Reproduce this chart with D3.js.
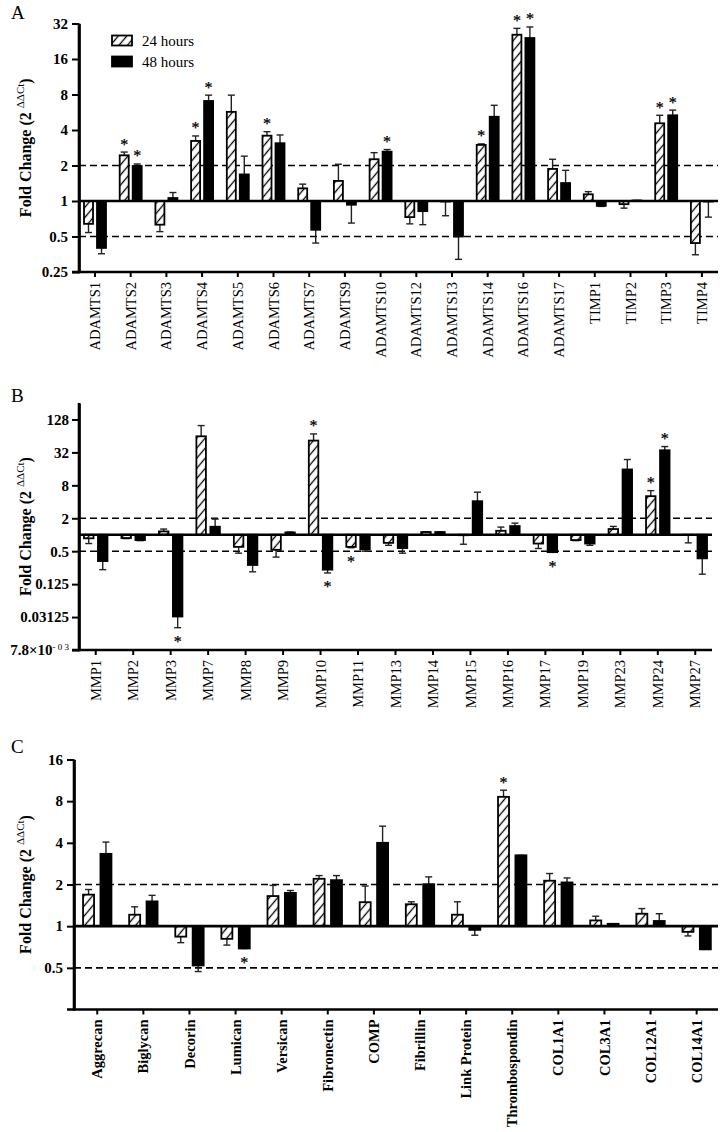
<!DOCTYPE html>
<html><head><meta charset="utf-8">
<script src="https://cdn.jsdelivr.net/npm/d3@7"></script>
<style>body{margin:0;background:#fff} svg{display:block} text{font-family:'Liberation Serif','Times New Roman',serif;}</style>
</head><body><svg id="c" width="720" height="1132"></svg>
<script>
// ---------- DATA ----------
const catsA = ["ADAMTS1","ADAMTS2","ADAMTS3","ADAMTS4","ADAMTS5","ADAMTS6","ADAMTS7","ADAMTS9","ADAMTS10","ADAMTS12","ADAMTS13","ADAMTS14","ADAMTS16","ADAMTS17","TIMP1","TIMP2","TIMP3","TIMP4"];
const valA24 = [0.64,2.44,0.63,3.23,5.7,3.58,1.28,1.48,2.26,0.73,0.99,2.99,25.7,1.87,1.14,0.94,4.56,0.44];
const errA24 = [0.54,2.6,0.55,3.56,7.9,3.87,1.39,2.05,2.57,0.64,0.75,3.05,29.1,2.26,1.2,0.87,5.33,0.35];
const valA48 = [0.40,1.98,1.06,7.05,1.68,3.09,0.57,0.93,2.62,0.82,0.50,5.18,24.1,1.42,0.91,1.01,5.33,0.99];
const errA48 = [0.357,2.06,1.18,7.9,2.4,3.63,0.44,0.65,2.73,0.63,0.32,6.48,29.9,1.82,0.90,1.01,5.9,0.73];
const starA24 = [0,1,0,1,0,1,0,0,0,0,0,1,1,0,0,0,1,0];
const starA48 = [0,1,0,1,0,0,0,0,1,0,0,0,1,0,0,0,1,0];
const tickValA = [0.25,0.5,1,2,4,8,16,32];
const tickLabA = ["0.25","0.5","1","2","4","8","16","32"];

const catsB = ["MMP1","MMP2","MMP3","MMP7","MMP8","MMP9","MMP10","MMP11","MMP13","MMP14","MMP15","MMP16","MMP17","MMP19","MMP23","MMP24","MMP27"];
const valB24 = [0.86,0.87,1.15,63,0.60,0.53,52.6,0.60,0.71,1.12,0.98,1.18,0.69,0.80,1.27,5.07,0.99];
const errB24 = [0.69,0.85,1.27,99,0.46,0.39,69.6,0.58,0.64,1.13,0.67,1.38,0.56,0.78,1.42,6.4,0.71];
const valB48 = [0.33,0.80,0.032,1.4,0.28,1.1,0.23,0.54,0.57,1.12,4.1,1.44,0.48,0.69,15.6,35,0.37];
const errB48 = [0.23,0.78,0.020,1.93,0.21,1.12,0.20,0.50,0.46,1.13,6.0,1.63,0.48,0.64,23.7,40.9,0.19];
const starB24 = [0,0,0,0,0,0,1,1,0,0,0,0,0,0,0,1,0];
const starB48 = [0,0,1,0,0,0,1,0,0,0,0,0,1,0,0,1,0];
const tickValB = [1/128,1/32,1/8,0.5,2,8,32,128];
const tickLabB = ["7.8×10|- 0 3","0.03125","0.125","0.5","2","8","32","128"];

const catsC = ["Aggrecan","Biglycan","Decorin","Lumican","Versican","Fibronectin","COMP","Fibrillin","Link Protein","Thrombospondin","COL1A1","COL3A1","COL12A1","COL14A1"];
const valC24 = [1.69,1.21,0.84,0.81,1.65,2.2,1.49,1.44,1.21,8.6,2.13,1.1,1.23,0.91];
const errC24 = [1.84,1.38,0.76,0.73,1.97,2.32,1.95,1.5,1.5,9.6,2.4,1.18,1.34,0.85];
const valC48 = [3.33,1.51,0.52,0.69,1.74,2.15,4.0,2.01,0.94,3.25,2.07,1.04,1.09,0.68];
const errC48 = [4.05,1.67,0.47,0.69,1.81,2.32,5.28,2.27,0.86,3.25,2.23,1.04,1.23,0.68];
const starC24 = [0,0,0,0,0,0,0,0,0,1,0,0,0,0];
const starC48 = [0,0,0,1,0,0,0,0,0,0,0,0,0,0];
const tickValC = [0.5,1,2,4,8,16];
const tickLabC = ["0.5","1","2","4","8","16"];

const seriesNames = ["24 hours","48 hours"];
const refLines = [2,0.5];

// ---------- DRAW ----------
const FONT = "'Liberation Serif','Times New Roman',serif";
const svg = d3.select('#c');
const defs = svg.append('defs');
const pat = defs.append('pattern').attr('id','hatch').attr('patternUnits','userSpaceOnUse')
  .attr('width',6.5).attr('height',6.5).attr('patternTransform','rotate(40)');
pat.append('rect').attr('width',6.5).attr('height',6.5).attr('fill','#fff');
pat.append('line').attr('x1',3.25).attr('x2',3.25).attr('y1',-1).attr('y2',7.5).attr('stroke','#000').attr('stroke-width',1.3);

const panels = [
  {letter:'A', ly:18.5, cats:catsA, v24:valA24, e24:errA24, v48:valA48, e48:errA48, s24:starA24, s48:starA48,
   tv:tickValA, tl:tickLabA, yDom:[0.25,32], yTop:23.5, yBot:272, axisX:79, xL:77.15, xR:719.75, xEnd:718,
   barW:9, off:6.5, bold:false, tickPad:4, legend:true},
  {letter:'B', ly:402, cats:catsB, v24:valB24, e24:errB24, v48:valB48, e48:errB48, s24:starB24, s48:starB48,
   tv:tickValB, tl:tickLabB, yDom:[1/128,256], yTop:403, yBot:650, axisX:79, xL:77, xR:714, xEnd:712,
   barW:9.5, off:7, bold:false, tickPad:3, legend:false},
  {letter:'C', ly:753, cats:catsC, v24:valC24, e24:errC24, v48:valC48, e48:errC48, s24:starC24, s48:starC48,
   tv:tickValC, tl:tickLabC, yDom:[0.25,16], yTop:759.5, yBot:1009.5, axisX:74, xL:74.2, xR:719.7, xEnd:718,
   barW:11, off:8.7, bold:true, tickPad:4, legend:false}
];

panels.forEach(p=>{
  const g = svg.append('g');
  const x = d3.scaleBand().domain(p.cats).range([p.xL,p.xR]).padding(0);
  const y = d3.scaleLog().base(2).domain(p.yDom).range([p.yBot,p.yTop]);
  const cx = c => x(c) + x.bandwidth()/2;

  refLines.forEach(v=>{
    g.append('line').attr('x1',p.axisX).attr('x2',p.xEnd).attr('y1',y(v)).attr('y2',y(v))
      .attr('stroke','#000').attr('stroke-width',1.6).attr('stroke-dasharray','7,4');
  });

  const series = [
    {v:p.v24, e:p.e24, s:p.s24, dx:-p.off, fill:'url(#hatch)'},
    {v:p.v48, e:p.e48, s:p.s48, dx:p.off, fill:'#000'}
  ];
  series.forEach(se=>{
    p.cats.forEach((c,i)=>{
      const bx = cx(c) + se.dx;
      const v = se.v[i], e = se.e[i];
      const y0 = y(1), y1 = y(v), ye = y(e);
      g.append('line').attr('x1',bx).attr('x2',bx).attr('y1',y1).attr('y2',ye)
        .attr('stroke','#222').attr('stroke-width',1.4);
      g.append('line').attr('x1',bx-3.5).attr('x2',bx+3.5).attr('y1',ye).attr('y2',ye)
        .attr('stroke','#222').attr('stroke-width',1.4);
      g.append('rect').attr('x',bx-p.barW/2).attr('y',Math.min(y0,y1))
        .attr('width',p.barW).attr('height',Math.abs(y1-y0))
        .attr('fill',se.fill).attr('stroke','#000').attr('stroke-width',1.8);
      if(se.s[i]){
        const up = v >= 1;
        const yy = up ? Math.min(y1,ye) - 2.5 : Math.max(y1,ye) + 19.5;
        g.append('text').attr('x',bx).attr('y',yy).attr('text-anchor','middle')
          .attr('font-family',FONT).attr('font-size',16).attr('fill','#000')
          .attr('stroke','#000').attr('stroke-width',0.25).text('*');
      }
    });
  });

  // baseline at 1
  g.append('line').attr('x1',p.axisX).attr('x2',p.xEnd).attr('y1',y(1)).attr('y2',y(1))
    .attr('stroke','#000').attr('stroke-width',2.6);

  // y axis
  const ya = g.append('g').attr('transform',`translate(${p.axisX},0)`)
    .call(d3.axisLeft(y).tickValues(p.tv).tickFormat((d,i)=>p.tl[i]).tickSize(7).tickPadding(p.tickPad).tickSizeOuter(0));
  ya.attr('font-family',FONT);
  ya.select('.domain').attr('stroke-width',2.6);
  ya.selectAll('.tick line').attr('stroke-width',2);
  ya.selectAll('.tick text').attr('font-family',FONT).attr('font-size',15).attr('font-weight','bold').attr('fill','#000')
    .each(function(d,i){
      const s = p.tl[i];
      if(s.indexOf('|')>=0){
        const parts = s.split('|');
        const t = d3.select(this); t.text(null);
        t.append('tspan').text(parts[0]);
        t.append('tspan').attr('font-size',9).attr('dy','-0.6em').attr('font-weight','normal').text(parts[1]);
      }
    });
  g.append('line').attr('x1',p.axisX).attr('x2',p.axisX).attr('y1',p.yTop).attr('y2',p.yBot+1.3)
    .attr('stroke','#000').attr('stroke-width',2.6);

  // x axis
  const xa = g.append('g').attr('transform',`translate(0,${p.yBot})`)
    .call(d3.axisBottom(x).tickSize(5).tickSizeOuter(0));
  xa.attr('font-family',FONT);
  xa.select('.domain').remove();
  xa.selectAll('.tick line').attr('stroke-width',2);
  xa.selectAll('.tick text').attr('font-family',FONT).attr('font-size',14.5)
    .attr('font-weight',p.bold?'bold':'normal').attr('fill','#000')
    .attr('transform','rotate(-90)').attr('text-anchor','end').attr('x',-10).attr('y',0).attr('dy','0.35em');
  g.append('line').attr('x1',p.axisX-7).attr('x2',p.xEnd).attr('y1',p.yBot).attr('y2',p.yBot)
    .attr('stroke','#000').attr('stroke-width',2.6);

  // y title
  const cy = (p.yTop + p.yBot)/2;
  const tt = g.append('text').attr('transform',`translate(31,${cy}) rotate(-90)`).attr('text-anchor','middle')
    .attr('font-family',FONT).attr('font-size',16).attr('font-weight','bold').attr('fill','#000');
  tt.append('tspan').text('Fold Change (2 ');
  tt.append('tspan').attr('font-size',11).attr('font-weight','normal').attr('dy','-0.65em').text('ΔΔCt');
  tt.append('tspan').attr('dy','0.45em').text(')');

  // panel letter
  g.append('text').attr('x',11).attr('y',p.ly).attr('font-family',FONT).attr('font-size',19).attr('fill','#000').text(p.letter);

  if(p.legend){
    const lg = g.append('g');
    const fills = ['url(#hatch)','#000'];
    seriesNames.forEach((n,i)=>{
      lg.append('rect').attr('x',112).attr('y',35.5+i*21).attr('width',20).attr('height',10)
        .attr('fill',fills[i]).attr('stroke','#000').attr('stroke-width',1.8);
      lg.append('text').attr('x',142).attr('y',46+i*21).attr('font-family',FONT).attr('font-size',15).attr('fill','#000').text(n);
    });
  }
});
</script>
</body></html>
